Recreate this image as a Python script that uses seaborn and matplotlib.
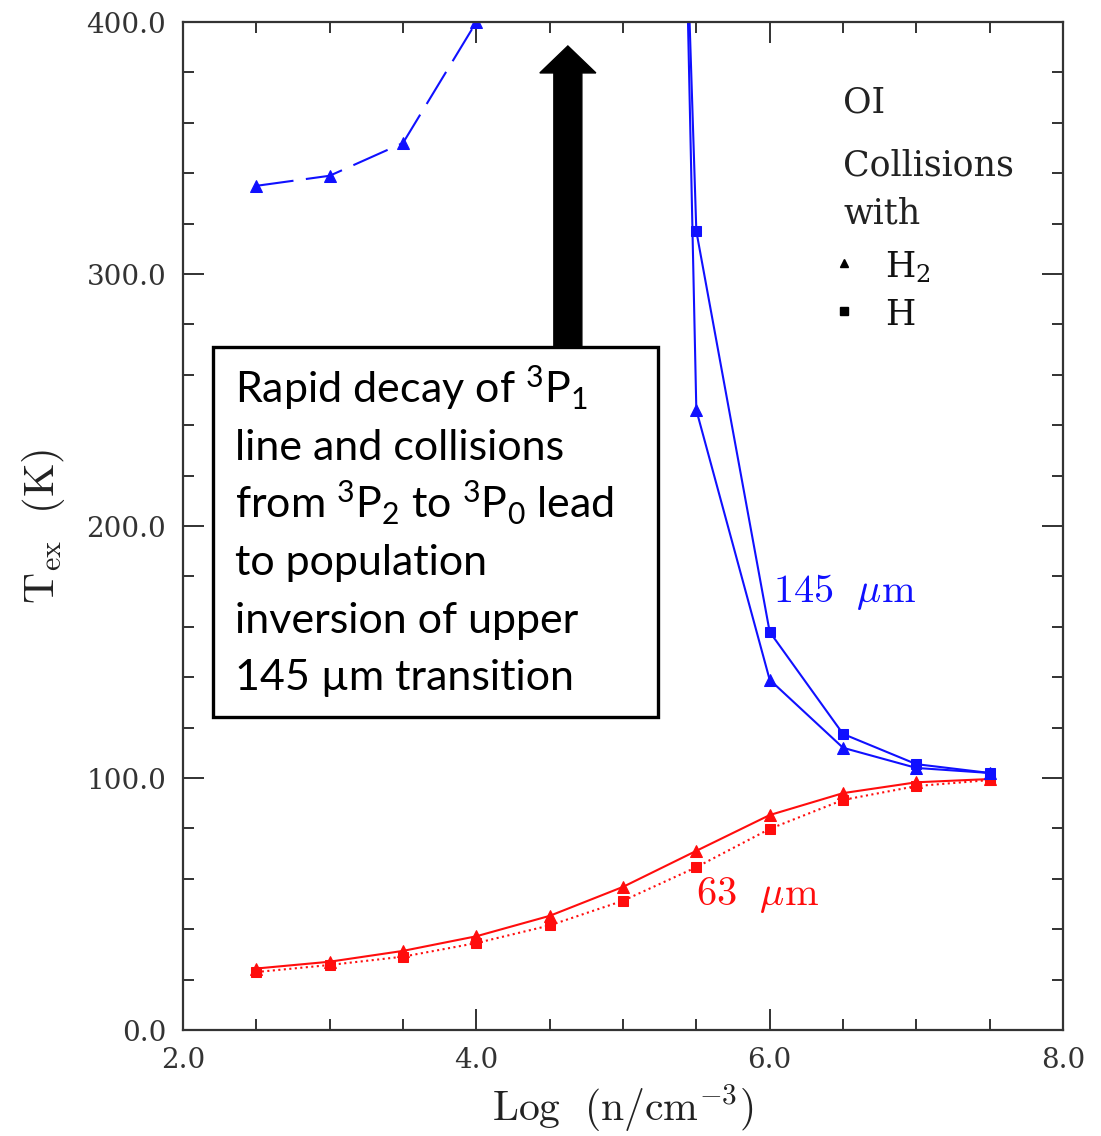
import numpy as np
import pandas as pd
import matplotlib
matplotlib.use("Agg")
import matplotlib.pyplot as plt
from matplotlib.patches import Rectangle
import seaborn as sns

sns.set_theme(style="ticks")
plt.rcParams["font.family"] = ["DejaVu Serif"]
plt.rcParams["mathtext.fontset"] = "custom"
plt.rcParams["mathtext.rm"] = "Lato"
plt.rcParams["mathtext.it"] = "Lato:italic"
plt.rcParams["mathtext.bf"] = "Lato:bold"

# ---- data (log density vs excitation temperature) ----
x_all = [2.5, 3.0, 3.5, 4.0, 4.5, 5.0, 5.5, 6.0, 6.5, 7.0, 7.5]
t63_h2 = [24.4, 27.1, 31.4, 37.2, 45.3, 56.8, 71.1, 85.3, 94.0, 98.3, 99.6]
t63_h = [23.0, 25.8, 29.1, 34.5, 41.5, 51.3, 64.6, 79.8, 91.3, 96.8, 99.2]

x_low = [2.5, 3.0, 3.5, 4.0]
t145_h2_low = [335, 339, 352, 400]

x_high = [5.0, 5.5, 6.0, 6.5, 7.0, 7.5]
t145_h2 = [1600, 246, 139, 112, 104, 102]
t145_h = [1220, 317, 158, 117.5, 105.5, 102]

xticks = [2.0, 4.0, 6.0, 8.0]
yticks = [0.0, 100.0, 200.0, 300.0, 400.0]

legend_labels = [r"$\mathrm{H_2}$", r"$\mathrm{H}$"]
legend_markers = ["^", "s"]

BLUE = "#1010ff"
RED = "#ff0d0d"
MS = 8

fig = plt.figure(figsize=(11.01, 11.36), dpi=100)
ax = fig.add_axes([0.1662, 0.0933, 0.7993, 0.8873])

sns.lineplot(x=x_all, y=t63_h2, ax=ax, color=RED, lw=1.5, marker="^", ms=MS,
             mec=RED, mfc=RED, estimator=None, sort=False)
sns.lineplot(x=x_all, y=t63_h, ax=ax, color=RED, lw=1.5, ls=":", marker="s", ms=MS - 1,
             mec=RED, mfc=RED, estimator=None, sort=False)
sns.lineplot(x=x_low, y=t145_h2_low, ax=ax, color=BLUE, lw=1.5,
             marker="^", ms=MS, mec=BLUE, mfc=BLUE, estimator=None, sort=False)
ax.lines[-1].set_dashes((18, 6))
sns.lineplot(x=x_high, y=t145_h2, ax=ax, color=BLUE, lw=1.5, marker="^", ms=MS,
             mec=BLUE, mfc=BLUE, estimator=None, sort=False)
sns.lineplot(x=x_high, y=t145_h, ax=ax, color=BLUE, lw=1.5, marker="s", ms=MS - 1,
             mec=BLUE, mfc=BLUE, estimator=None, sort=False)

ax.set_xlim(2.0, 8.0)
ax.set_ylim(0.0, 400.0)
ax.set_xticks(xticks)
ax.set_yticks(yticks)
ax.set_xticks(np.arange(2.0, 8.01, 0.5), minor=True)
ax.set_yticks(np.arange(0, 401, 20), minor=True)
ax.set_xticklabels([f"{v:.1f}" for v in xticks])
ax.set_yticklabels([f"{v:.1f}" for v in yticks])
ax.tick_params(which="both", direction="in", top=True, right=True,
               color="#222222", width=1.3, labelsize=20, labelcolor="#333333")
ax.tick_params(which="major", length=15, pad=12)
ax.tick_params(which="minor", length=8)
for s in ax.spines.values():
    s.set_color("#333333")
    s.set_linewidth(1.6)
ax.grid(False)

ax.set_xlabel(r"$\mathrm{Log\ \ (n/cm^{-3})}$", fontsize=30, labelpad=6,
              math_fontfamily="cm", color="#222222")
ax.set_ylabel(r"$\mathrm{T_{ex}\ \ (K)}$", fontsize=31, labelpad=14,
              math_fontfamily="cm", color="#222222")

# curve labels
ax.text(6.02, 170, r"$\mathrm{145}\ \ \mu\mathrm{m}$", color=BLUE, fontsize=29,
        math_fontfamily="cm", ha="left", va="baseline")
ax.text(5.50, 49.5, r"$\mathrm{63}\ \ \mu\mathrm{m}$", color=RED, fontsize=29,
        math_fontfamily="cm", ha="left", va="baseline")

# legend header and keys
for txt, yy in [("OI", 0.9107), ("Collisions", 0.8482), ("with", 0.8006)]:
    ax.text(0.75, yy, txt, transform=ax.transAxes, family="DejaVu Serif",
            fontsize=25, color="#222222", ha="left", va="baseline")
for lab, mk, yy in zip(legend_labels, legend_markers, [0.747, 0.6994]):
    ax.plot([0.7512], [yy + 0.0135], transform=ax.transAxes, marker=mk,
            color="black", ls="none", ms=6 if mk == "^" else 5.5, clip_on=False)
    ax.text(0.7977, yy, lab, transform=ax.transAxes, fontsize=25,
            math_fontfamily="dejavuserif", color="#111111",
            ha="left", va="baseline")

# arrow
ax.arrow(4.624, 271, 0, 390.5 - 271, width=0.191, head_width=0.382,
         head_length=10.7, length_includes_head=True, color="black", zorder=4)

# annotation box
box = Rectangle((2.2045, 124.2), 5.238 - 2.2045, 271 - 124.2, facecolor="white",
                edgecolor="black", lw=2.4, zorder=5)
ax.add_patch(box)
lines = [r"Rapid decay of $^{3}$P$_{1}$",
         "line and collisions",
         r"from $^{3}$P$_{2}$ to $^{3}$P$_{0}$ lead",
         "to population",
         "inversion of upper",
         "145 µm transition"]
for i, ln in enumerate(lines):
    px = 403 + 57.4 * i
    yv = (1030 - px) / 2.52
    ax.text(2.354, yv, ln, family="Lato", fontsize=31, color="black",
            ha="left", va="baseline", zorder=6)

fig.savefig("out.png", dpi=100)
